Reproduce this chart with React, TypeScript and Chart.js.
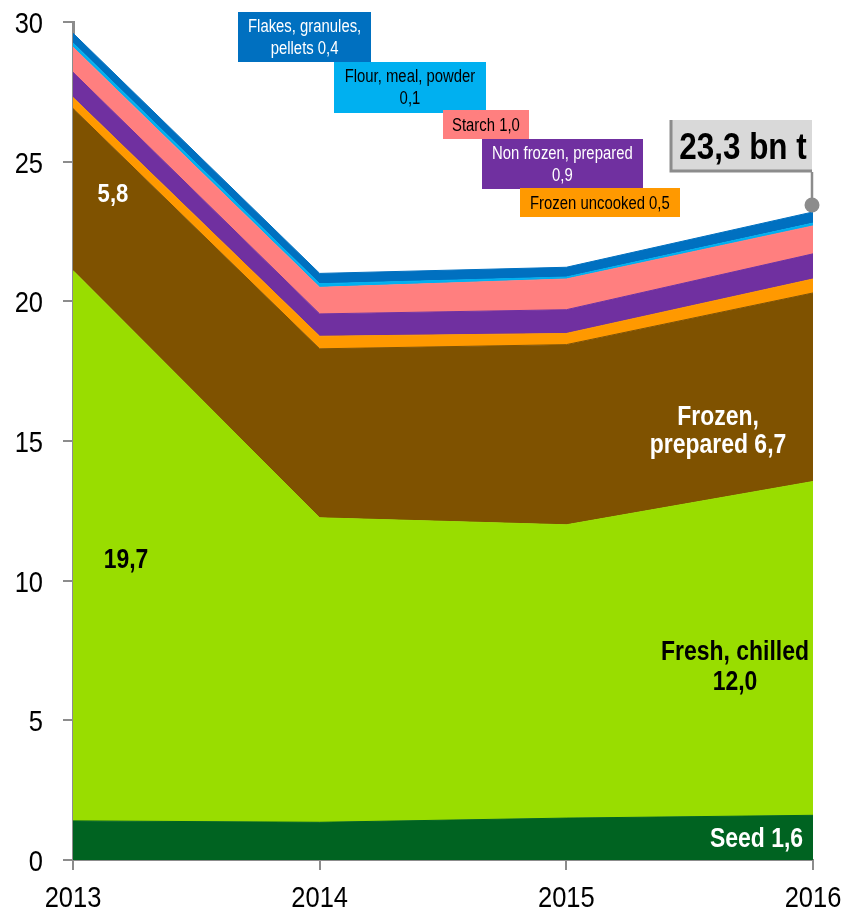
import { useEffect, useRef } from 'react';
import { Chart, registerables } from 'chart.js';

Chart.register(...registerables);

// ---- Data ----
const years = [2013, 2014, 2015, 2016];
const seed = [1.4, 1.35, 1.5, 1.6];
const freshChilled = [19.7, 10.9, 10.5, 11.95];
const frozenPrepared = [5.8, 6.05, 6.45, 6.75];
const frozenUncooked = [0.4, 0.45, 0.4, 0.5];
const nonFrozenPrepared = [0.9, 0.8, 0.85, 0.9];
const starch = [0.9, 0.95, 1.1, 1.0];
const flourMealPowder = [0.15, 0.13, 0.07, 0.1];
const flakesGranulesPellets = [0.35, 0.37, 0.35, 0.4];
const yTicks = [0, 5, 10, 15, 20, 25, 30];
const totalLabel = '23,3 bn t';

const FONT = '"Liberation Sans", Arial, sans-serif';
const SX = 0.85; // horizontal condensing to imitate a narrow typeface

const seriesDefs = [
  { label: 'Seed', data: seed, color: '#006321' },
  { label: 'Fresh, chilled', data: freshChilled, color: '#99DD00' },
  { label: 'Frozen, prepared', data: frozenPrepared, color: '#7F5200' },
  { label: 'Frozen uncooked', data: frozenUncooked, color: '#FF9900' },
  { label: 'Non frozen, prepared', data: nonFrozenPrepared, color: '#7030A0' },
  { label: 'Starch', data: starch, color: '#FF7F7F' },
  { label: 'Flour, meal, powder', data: flourMealPowder, color: '#00B0F0' },
  { label: 'Flakes, granules, pellets', data: flakesGranulesPellets, color: '#0070C0' },
];

// text labels inside areas (anchor = first-line baseline, data units)
const areaLabels = [
  { lines: ['5,8'], x: 2013.162, y: 23.556, color: '#FFFFFF', align: 'center', size: 26, lh: 30 },
  { lines: ['19,7'], x: 2013.215, y: 10.454, color: '#000000', align: 'center', size: 27, lh: 30 },
  { lines: ['Frozen,', 'prepared 6,7'], x: 2015.615, y: 15.573, color: '#FFFFFF', align: 'center', size: 27, lh: 28 },
  { lines: ['Fresh, chilled', '12,0'], x: 2015.684, y: 7.16, color: '#000000', align: 'center', size: 27, lh: 30 },
  { lines: ['Seed 1,6'], x: 2015.96, y: 0.465, color: '#FFFFFF', align: 'right', size: 27, lh: 30 },
];

// small legend boxes (centre, data units)
const boxLabels = [
  { lines: ['Flakes, granules,', 'pellets 0,4'], x: 2013.939, y: 29.46, w: 133, h: 50, bg: '#0070C0', color: '#FFFFFF' },
  { lines: ['Flour, meal, powder', '0,1'], x: 2014.366, y: 27.67, w: 152, h: 51, bg: '#00B0F0', color: '#000000' },
  { lines: ['Starch 1,0'], x: 2014.674, y: 26.33, w: 86, h: 29, bg: '#FF7F7F', color: '#000000' },
  { lines: ['Non frozen, prepared', '0,9'], x: 2014.984, y: 24.92, w: 161, h: 50, bg: '#7030A0', color: '#FFFFFF' },
  { lines: ['Frozen uncooked 0,5'], x: 2015.136, y: 23.54, w: 160, h: 29, bg: '#FF9900', color: '#000000' },
];

const callout = { x: 2015.708, y: 25.56, w: 142, h: 52, dotX: 2016, dotY: 23.45 };

function drawText(ctx: CanvasRenderingContext2D, text: string, x: number, y: number, align: CanvasTextAlign) {
  ctx.save();
  ctx.translate(x, y);
  ctx.scale(SX, 1);
  ctx.textAlign = align;
  ctx.textBaseline = 'alphabetic';
  ctx.fillText(text, 0, 0);
  ctx.restore();
}

const annotPlugin = {
  id: 'annot',
  afterDraw(chart: any) {
    const { ctx } = chart;
    const xs = chart.scales.x;
    const ys = chart.scales.y;
    const area = chart.chartArea;
    ctx.save();
    // tick labels
    ctx.fillStyle = '#000000';
    ctx.font = `30px ${FONT}`;
    for (const v of yTicks) {
      drawText(ctx, String(v), area.left - 30, ys.getPixelForValue(v) + 11, 'right');
    }
    for (const v of years) {
      drawText(ctx, String(v), xs.getPixelForValue(v), area.bottom + 47, 'center');
    }
    // in-area labels
    for (const l of areaLabels) {
      ctx.font = `bold ${l.size}px ${FONT}`;
      ctx.fillStyle = l.color;
      const px = xs.getPixelForValue(l.x);
      const py = ys.getPixelForValue(l.y);
      l.lines.forEach((t, i) => drawText(ctx, t, px, py + i * l.lh, l.align as CanvasTextAlign));
    }
    // legend boxes
    for (const b of boxLabels) {
      const cx = xs.getPixelForValue(b.x);
      const cy = ys.getPixelForValue(b.y);
      ctx.fillStyle = b.bg;
      ctx.fillRect(Math.round(cx - b.w / 2), Math.round(cy - b.h / 2), b.w, b.h);
      ctx.font = `17.5px ${FONT}`;
      ctx.fillStyle = b.color;
      const n = b.lines.length;
      b.lines.forEach((t, i) => drawText(ctx, t, cx, cy + 6.3 + (i - (n - 1) / 2) * 22, 'center'));
    }
    // callout
    const cx = xs.getPixelForValue(callout.x);
    const cy = ys.getPixelForValue(callout.y);
    const left = Math.round(cx - callout.w / 2);
    const top = Math.round(cy - callout.h / 2);
    const right = left + callout.w;
    const bottom = top + callout.h;
    const dx = xs.getPixelForValue(callout.dotX) - 1;
    const dy = ys.getPixelForValue(callout.dotY);
    ctx.strokeStyle = '#8C8C8C';
    ctx.lineWidth = 2.5;
    ctx.beginPath();
    ctx.moveTo(dx, bottom);
    ctx.lineTo(dx, dy);
    ctx.stroke();
    ctx.fillStyle = '#8C8C8C';
    ctx.beginPath();
    ctx.arc(dx, dy, 7.5, 0, Math.PI * 2);
    ctx.fill();
    ctx.fillStyle = '#D9D9D9';
    ctx.fillRect(left, top, callout.w, callout.h);
    ctx.strokeStyle = '#8C8C8C';
    ctx.lineWidth = 3;
    ctx.beginPath();
    ctx.moveTo(left + 1, top);
    ctx.lineTo(left + 1, bottom - 1);
    ctx.lineTo(right, bottom - 1);
    ctx.stroke();
    ctx.fillStyle = '#000000';
    ctx.font = `bold 37px ${FONT}`;
    drawText(ctx, totalLabel, (left + right) / 2 + 2, (top + bottom) / 2 + 13, 'center');
    ctx.restore();
  },
};

export default function App() {
  const ref = useRef<HTMLCanvasElement>(null);
  useEffect(() => {
    document.body.style.margin = '0';
    const canvas = ref.current!;
    const chart = new Chart(canvas, {
      type: 'line',
      data: {
        datasets: seriesDefs.map((s, i) => ({
          label: s.label,
          data: years.map((yr, j) => ({ x: yr, y: s.data[j] })),
          backgroundColor: s.color,
          borderColor: s.color,
          borderWidth: 1,
          pointRadius: 0,
          fill: i === 0 ? 'origin' : '-1',
          tension: 0,
        })),
      },
      options: {
        responsive: false,
        animation: false,
        layout: { padding: { top: 22, right: 30, left: 0, bottom: 0 } },
        plugins: { legend: { display: false }, tooltip: { enabled: false } },
        scales: {
          x: {
            type: 'linear',
            min: 2013,
            max: 2016,
            afterFit: (s: any) => { s.height = 53; },
            afterBuildTicks: (s: any) => { s.ticks = years.map((v) => ({ value: v })); },
            ticks: { display: false },
            grid: { display: true, drawOnChartArea: false, drawTicks: true, tickLength: 10, color: '#8C8C8C', lineWidth: 2 },
            border: { display: true, color: '#8C8C8C', width: 2 },
          },
          y: {
            stacked: true,
            min: 0,
            max: 30,
            afterFit: (s: any) => { s.width = 73; },
            afterBuildTicks: (s: any) => { s.ticks = yTicks.map((v) => ({ value: v })); },
            ticks: { display: false },
            grid: { display: true, drawOnChartArea: false, drawTicks: true, tickLength: 10, color: '#8C8C8C', lineWidth: 2 },
            border: { display: true, color: '#8C8C8C', width: 3 },
          },
        },
      },
      plugins: [annotPlugin],
    } as any);
    return () => chart.destroy();
  }, []);
  return (
    <div style={{ position: 'absolute', left: 0, top: 0, width: 843, height: 913, background: '#fff' }}>
      <canvas ref={ref} width={843} height={913} />
    </div>
  );
}
